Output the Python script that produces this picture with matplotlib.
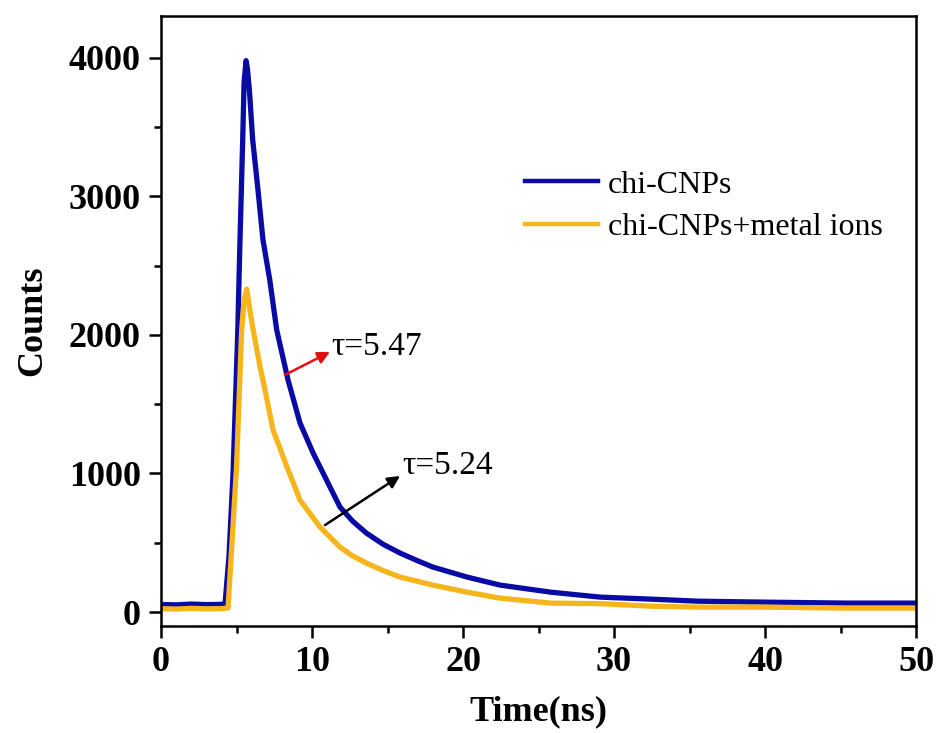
import matplotlib
matplotlib.use("Agg")
import matplotlib.pyplot as plt
from matplotlib.ticker import MultipleLocator

plt.rcParams['font.family'] = ['Liberation Serif', 'DejaVu Serif']

# values
t_blue = [0, 1, 2, 3, 4, 4.24, 4.5, 4.77, 5.08, 5.23, 5.41, 5.5, 5.63, 5.72,
          5.85, 6.07, 6.42, 6.75, 7.2, 7.66, 8.41, 9.2, 10.07, 10.86, 11.85,
          12.7, 13.6, 14.7, 15.83, 17.0, 18.0, 20.26, 22.45, 25.8, 29.1, 32.4,
          35.5, 39.9, 45.4, 50]
counts_blue = [55, 52, 58, 54, 56, 60, 400, 1000, 2014, 2686, 3408, 3820, 3978, 3920,
               3770, 3408, 3047, 2686, 2397, 2036, 1675, 1365, 1148, 975, 758,
               655, 570, 490, 426, 370, 325, 253, 195, 144, 108, 94,
               79, 72, 65, 65]

t_yellow = [0, 1, 2, 3, 4, 4.44, 4.7, 5.0, 5.34, 5.5, 5.67, 5.85, 6.1, 6.56,
            6.75, 7.42, 8.34, 8.74, 9.2, 10.53, 11.85, 12.7, 13.6, 14.7, 15.83,
            18.0, 20.26, 22.45, 25.8, 29.1, 32.4, 35.5, 39.9, 45.4, 50]
counts_yellow = [25, 22, 27, 24, 25, 30, 500, 1047, 2036, 2250, 2330, 2200, 2036, 1769,
                 1675, 1314, 1047, 937, 809, 614, 469, 405, 354, 300, 253,
                 195, 144, 101, 65, 61, 43, 36, 36, 29, 29]

labels = ["chi-CNPs", "chi-CNPs+metal ions"]
colors = ["#0A0AA5", "#F7B51C"]

fig = plt.figure(figsize=(9.4, 7.33), dpi=100)
ax = fig.add_axes([0.1713, 0.146, 0.8032, 0.8322])

ax.plot(t_blue, counts_blue, color=colors[0], lw=3.8, label=labels[0])
ax.plot(t_yellow, counts_yellow, color=colors[1], lw=3.8, label=labels[1])

ax.set_xlim(0, 50)
ax.set_ylim(-100, 4300)
ax.xaxis.set_major_locator(MultipleLocator(10))
ax.xaxis.set_minor_locator(MultipleLocator(5))
ax.yaxis.set_major_locator(MultipleLocator(1000))
ax.yaxis.set_minor_locator(MultipleLocator(500))

for s in ax.spines.values():
    s.set_linewidth(1.8)
ax.tick_params(which='major', direction='out', length=8.5, width=1.8, pad=6,
               labelsize=26)
ax.tick_params(which='minor', direction='out', length=5, width=1.8)
for lab in ax.get_xticklabels() + ax.get_yticklabels():
    lab.set_fontweight('bold')

ax.set_xlabel("Time(ns)", fontsize=26, fontweight='bold', labelpad=12)
ax.set_ylabel("Counts", fontsize=26, fontweight='bold', labelpad=14)

leg = ax.legend(loc='upper left', bbox_to_anchor=(0.465, 0.768), frameon=False,
                fontsize=23, handlelength=2.3, handletextpad=0.3,
                labelspacing=0.4, borderaxespad=0)
for h in leg.get_lines():
    h.set_linewidth(3.2)

ax.annotate("", xy=(11.19, 1877), xytext=(8.21, 1711),
            arrowprops=dict(arrowstyle='-|>', color='#E01010', lw=1.8,
                            mutation_scale=18, shrinkA=0, shrinkB=0))
ax.text(11.3, 1913, "\u03c4=5.47", fontsize=24, va='center', ha='left')

ax.annotate("", xy=(15.83, 982), xytext=(10.86, 628),
            arrowprops=dict(arrowstyle='-|>', color='black', lw=1.8,
                            mutation_scale=18, shrinkA=0, shrinkB=0))
ax.text(15.96, 1054, "\u03c4=5.24", fontsize=24, va='center', ha='left')

fig.savefig("out.png", dpi=100)
